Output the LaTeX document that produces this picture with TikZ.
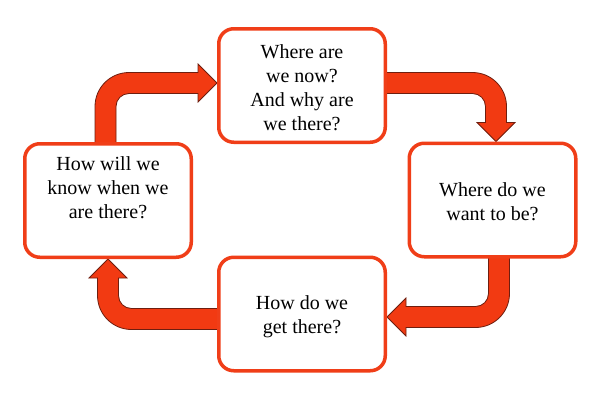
\documentclass[tikz,border=0pt]{standalone}
\usepackage{fontspec}
\setmainfont{Liberation Serif}
\usetikzlibrary{calc}
\pgfdeclarelayer{bg}
\pgfsetlayers{bg,main}
\definecolor{boxred}{RGB}{240,62,24}
\definecolor{arrred}{RGB}{242,58,18}
\definecolor{arrline}{RGB}{110,30,15}
\begin{document}
\begin{tikzpicture}[x=1pt,y=-1pt,
  box/.style={draw=boxred, line width=3.5pt, fill=white, rounded corners=15pt,
    minimum width=166.5pt, minimum height=113.5pt},
  txt/.style={align=center, font=\fontsize{20}{24}\selectfont, text=black, inner sep=0pt},
  bent/.style={fill=arrred, draw=arrline, line width=0.8pt, line join=miter}]
\useasboundingbox (0,0) rectangle (600,400);
% boxes
\node[box] (T) at (302,85.5) {};
\node[box] (R) at (492.5,200) {};
\node[box] (L) at (108,200.5) {};
\node[box] (B) at (302,314) {};
% texts
\node[txt] (tT) at (302,87.5) {Where are\\we now?\\And why are\\we there?};
\node[txt] (tR) at (492.5,202) {Where do we\\want to be?};
\node[txt] (tL) at (108,188) {How will we\\know when we\\are there?};
\node[txt] (tB) at (302,316.5) {How do we\\get there?};
% connector end points
\coordinate (s1) at ($(L.north)+(-2.5,0)$);
\coordinate (e1) at ($(T.west)+(0,-2.5)$);
\coordinate (c1) at (s1 |- e1);
\coordinate (s2) at ($(T.east)+(0,-2.5)$);
\coordinate (e2) at ($(R.north)+(3.5,0)$);
\coordinate (c2) at (e2 |- s2);
\coordinate (s3) at ($(R.south)+(6.5,0)$);
\coordinate (e3) at ($(B.east)+(0,3)$);
\coordinate (c3) at (s3 |- e3);
\coordinate (s4) at ($(B.west)+(0,5)$);
\coordinate (e4) at (L.south);
\coordinate (c4) at (e4 |- s4);
\begin{pgfonlayer}{bg}
\fill[white] (0,0) rectangle (600,400);
% L -> T
\draw[bent] ($(s1)+(-10.5,4)$) -- ($(c1)+(-10.5,23.5)$)
  .. controls ($(c1)+(-10.5,4.7)$) and ($(c1)+(4.7,-10.5)$) .. ($(c1)+(23.5,-10.5)$)
  -- ($(e1)+(-19,-10.5)$) -- ($(e1)+(-19,-19)$) -- (e1) -- ($(e1)+(-19,19)$) -- ($(e1)+(-19,10.5)$)
  -- ($(c1)+(23.5,10.5)$)
  .. controls ($(c1)+(16.3,10.5)$) and ($(c1)+(10.5,16.3)$) .. ($(c1)+(10.5,23.5)$)
  -- ($(s1)+(10.5,4)$) -- cycle;
% T -> R
\draw[bent] ($(s2)+(-4,-10.5)$) -- ($(c2)+(-23.5,-10.5)$)
  .. controls ($(c2)+(-4.7,-10.5)$) and ($(c2)+(10.5,4.7)$) .. ($(c2)+(10.5,23.5)$)
  -- ($(e2)+(10.5,-19)$) -- ($(e2)+(19,-19)$) -- (e2) -- ($(e2)+(-19,-19)$) -- ($(e2)+(-10.5,-19)$)
  -- ($(c2)+(-10.5,23.5)$)
  .. controls ($(c2)+(-10.5,16.3)$) and ($(c2)+(-16.3,10.5)$) .. ($(c2)+(-23.5,10.5)$)
  -- ($(s2)+(-4,10.5)$) -- cycle;
% R -> B
\draw[bent] ($(s3)+(10.5,-4)$) -- ($(c3)+(10.5,-23.5)$)
  .. controls ($(c3)+(10.5,-4.7)$) and ($(c3)+(-4.7,10.5)$) .. ($(c3)+(-23.5,10.5)$)
  -- ($(e3)+(19,10.5)$) -- ($(e3)+(19,19)$) -- (e3) -- ($(e3)+(19,-19)$) -- ($(e3)+(19,-10.5)$)
  -- ($(c3)+(-23.5,-10.5)$)
  .. controls ($(c3)+(-16.3,-10.5)$) and ($(c3)+(-10.5,-16.3)$) .. ($(c3)+(-10.5,-23.5)$)
  -- ($(s3)+(-10.5,-4)$) -- cycle;
% B -> L
\draw[bent] ($(s4)+(4,10.5)$) -- ($(c4)+(23.5,10.5)$)
  .. controls ($(c4)+(4.7,10.5)$) and ($(c4)+(-10.5,-4.7)$) .. ($(c4)+(-10.5,-23.5)$)
  -- ($(e4)+(-10.5,19)$) -- ($(e4)+(-19,19)$) -- (e4) -- ($(e4)+(19,19)$) -- ($(e4)+(10.5,19)$)
  -- ($(c4)+(10.5,-23.5)$)
  .. controls ($(c4)+(10.5,-16.3)$) and ($(c4)+(16.3,-10.5)$) .. ($(c4)+(23.5,-10.5)$)
  -- ($(s4)+(4,-10.5)$) -- cycle;
\end{pgfonlayer}
\end{tikzpicture}
\end{document}
